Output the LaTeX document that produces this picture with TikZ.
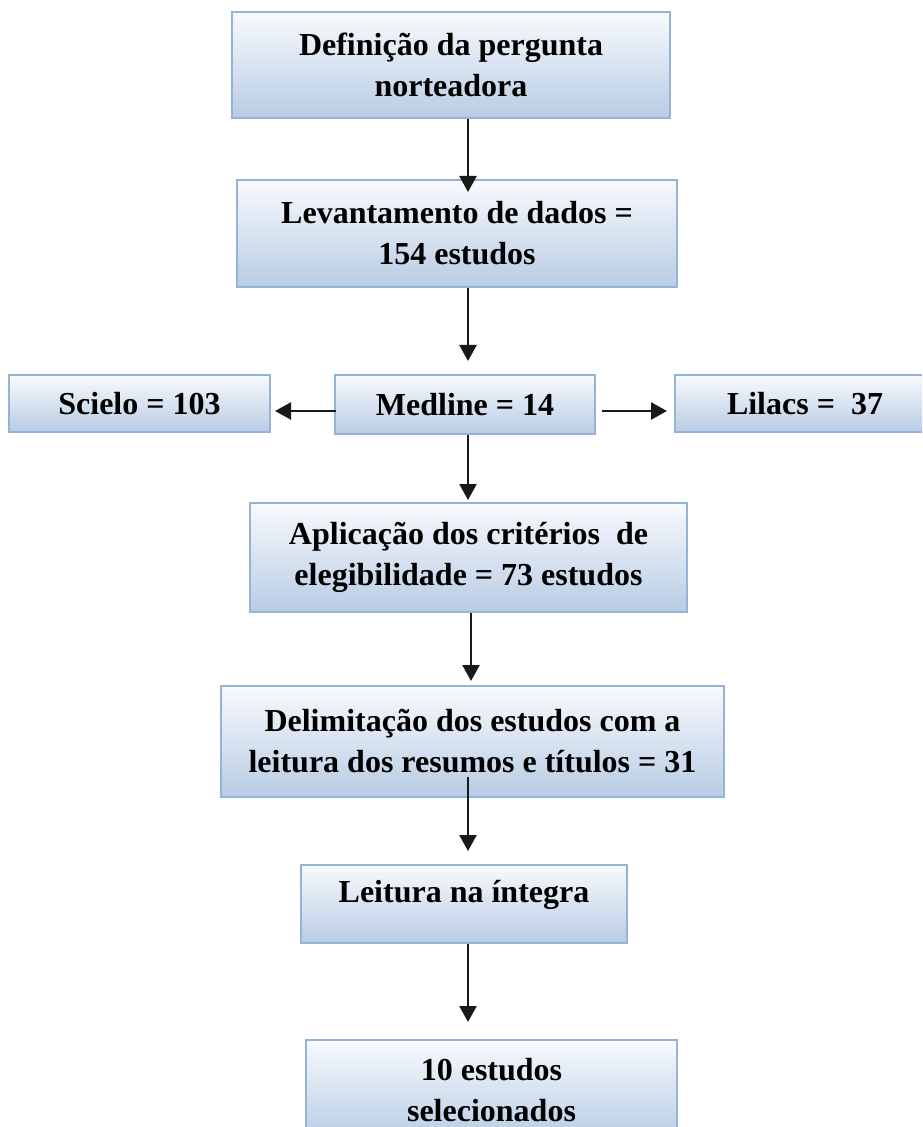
\documentclass[tikz,border=0pt]{standalone}
\usepackage{fontspec}
\setmainfont{Liberation Serif}
\usetikzlibrary{arrows.meta}
\definecolor{boxline}{RGB}{149,179,215}
\definecolor{boxtop}{RGB}{248,250,253}
\definecolor{boxbottom}{RGB}{184,204,228}
\begin{document}
\begin{tikzpicture}[x=0.5pt,y=-0.5pt,
    flowbox/.style={draw=boxline, line width=1pt, top color=boxtop, bottom color=boxbottom,
      align=center, inner sep=0pt, font=\fontsize{16}{20.5}\selectfont\bfseries},
    flow/.style={-{Triangle[length=8pt,width=8.5pt]}, line width=1.2pt, black!90}]
  \useasboundingbox (0,0) rectangle (922,1127);
  \clip (0,0) rectangle (922,1127);

  % boxes
  \node[flowbox, minimum width=219pt, minimum height=53pt] (pergunta) at (451,65) {Definição da pergunta\\norteadora};
  \node[flowbox, minimum width=220pt, minimum height=53.5pt] (levantamento) at (457,233.5) {Levantamento de dados =\\154 estudos};
  \node[flowbox, minimum width=130.5pt, minimum height=28.5pt] (scielo) at (139.5,403.5) {Scielo = 103};
  \node[flowbox, minimum width=130pt, minimum height=29.5pt] (medline) at (465,404.5) {Medline = 14};
  \node[flowbox, minimum width=130pt, minimum height=28.5pt] (lilacs) at (805,403.5) {Lilacs = \ 37};
  \node[flowbox, minimum width=218.5pt, minimum height=54.5pt] (aplicacao) at (468.5,557.5) {Aplicação dos critérios \ de\\elegibilidade = 73 estudos};
  \node[flowbox, minimum width=251.5pt, minimum height=55.5pt] (delimitacao) at (472.5,741.5) {Delimitação dos estudos com a\\leitura dos resumos e títulos = 31};
  \node[flowbox, minimum width=163pt, minimum height=39pt, text depth=12.5pt] (leitura) at (464,904) {Leitura na íntegra};
  \node[flowbox, minimum width=185.5pt, minimum height=50pt] (selecionados) at (491.5,1090) {10 estudos\\selecionados};

  % arrows
  \coordinate (col) at (468,0);
  \coordinate (row) at (0,411);
  \draw[flow, shorten >=-6.5pt] (pergunta.south -| col) -- (levantamento.north -| col);
  \draw[flow, shorten >=6.5pt] (levantamento.south -| col) -- (medline.north -| col);
  \draw[flow, shorten <=-1pt, shorten >=2pt] (medline.west |- row) -- (scielo.east |- row);
  \draw[flow, shorten <=3pt, shorten >=3.5pt] (medline.east |- row) -- (lilacs.west |- row);
  \draw[flow, shorten >=1pt] (medline.south -| col) -- (aplicacao.north -| col);
  \draw[flow, shorten >=2pt] ([xshift=1.5pt]aplicacao.south -| col) -- ([xshift=1.5pt]delimitacao.north -| col);
  \draw[flow, shorten <=-10.5pt, shorten >=6.5pt] (delimitacao.south -| col) -- (leitura.north -| col);
  \draw[flow, shorten >=8.5pt] (leitura.south -| col) -- (selecionados.north -| col);
\end{tikzpicture}
\end{document}
